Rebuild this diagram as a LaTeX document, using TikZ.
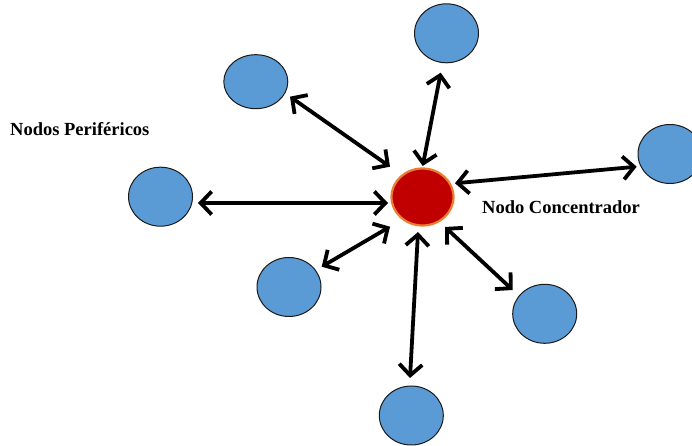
\documentclass[tikz,border=0pt]{standalone}
\usepackage{fontspec}
\setmainfont{Liberation Serif}
\usetikzlibrary{arrows.meta,shapes.geometric}
\definecolor{periph}{HTML}{5B9BD5}
\definecolor{hubred}{HTML}{C00000}
\definecolor{hubrim}{HTML}{ED7D31}
\begin{document}
\begin{tikzpicture}[x=1pt,y=1pt,
  periphnode/.style={ellipse, draw=black!90, line width=1pt, fill=periph,
    minimum width=64pt, minimum height=59pt, inner sep=0pt},
  hubnode/.style={ellipse, draw=hubrim, line width=2.2pt, fill=hubred,
    minimum width=62pt, minimum height=57pt, inner sep=0pt},
  link/.style={line width=3.8pt, black,
    {Straight Barb[length=11pt,width=23pt]}-{Straight Barb[length=11pt,width=23pt]}},
  caption/.style={font=\bfseries\fontsize{18.5}{22}\selectfont, inner sep=0pt, anchor=base west}]
\useasboundingbox (0,0) rectangle (692,446);
\clip (0,0) rectangle (692,446);

% hub and peripheral nodes
\node[hubnode] (hub) at (422.5,249) {};
\node[periphnode] (top) at (446.5,412.7) {};
\node[periphnode, minimum height=54pt] (tl) at (255.8,364.3) {};
\node[periphnode] (right) at (670,292) {};
\node[periphnode] (left) at (160.5,249.3) {};
\node[periphnode] (bl) at (289,159) {};
\node[periphnode] (br) at (544.7,132.2) {};
\node[periphnode] (bottom) at (411.3,30.5) {};

% labels
\node[caption] (lblperiph) at (10,310) {Nodos Periféricos};
\node[caption] (lblhub) at (482,232) {Nodo Concentrador};

% double-headed links between hub and peripherals
\draw[link] ([shift={(34.2,-15)}]tl.center) -- ([shift={(-32.5,30.3)}]hub.center);
\draw[link] ([shift={(-5.8,-39.4)}]top.center) -- ([shift={(0.2,31)}]hub.center);
\draw[link] ([shift={(32.5,13.7)}]hub.center) -- ([shift={(-33.3,-12.7)}]right.center);
\draw[link] ([shift={(37.5,-6.3)}]left.center) -- ([shift={(-34.5,-6)}]hub.center);
\draw[link] ([shift={(32.7,20.3)}]bl.center) -- ([shift={(-32.5,-29.7)}]hub.center);
\draw[link] ([shift={(22.5,-30)}]hub.center) -- ([shift={(-32,23.8)}]br.center);
\draw[link] ([shift={(-4.5,-35)}]hub.center) -- ([shift={(-1.3,37.5)}]bottom.center);
\end{tikzpicture}
\end{document}
